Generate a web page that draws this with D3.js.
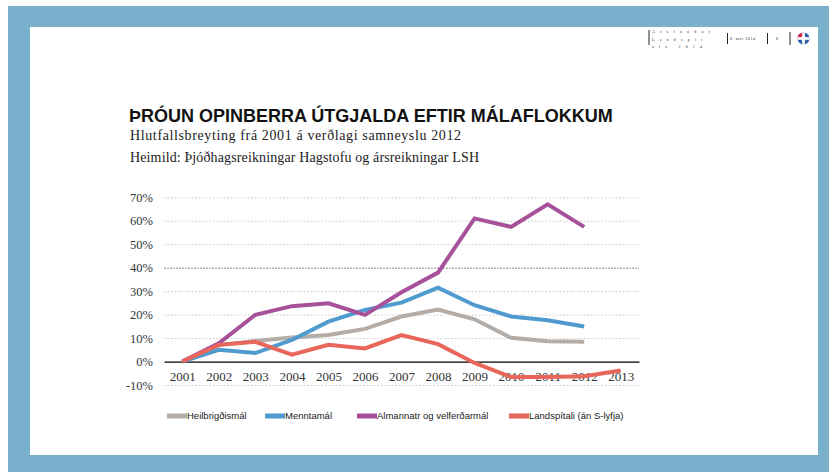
<!DOCTYPE html>
<html>
<head>
<meta charset="utf-8">
<script src="https://cdn.jsdelivr.net/npm/d3@7"></script>
<style>
  body { margin: 0; background: #fff; }
  svg { display: block; }
</style>
</head>
<body>
<div id="chart"></div>
<script>
// Þróun opinberra útgjalda - line chart

var years = [2001, 2002, 2003, 2004, 2005, 2006, 2007, 2008, 2009, 2010, 2011, 2012, 2013];
var yTicks = [-10, 0, 10, 20, 30, 40, 50, 60, 70];

var seriesNames = ["Heilbrigðismál", "Menntamál", "Almannatr og velferðarmál", "Landspítali (án S-lyfja)"];
var seriesColors = ["#b3aca7", "#4f9bd0", "#a6519a", "#e8665a"];

var heilbrigdis = [0, 7, 8.8, 10.2, 11.3, 13.9, 19.2, 22.2, 18, 10.1, 8.6, 8.4];
var mennta = [0, 5, 3.6, 9.2, 17, 22, 25.1, 31.5, 24, 19.2, 17.6, 14.9];
var almannatr = [0, 7.8, 19.9, 23.6, 24.8, 19.9, 29.5, 37.9, 61, 57.4, 67, 57.4];
var landspitali = [0, 7.1, 8.4, 2.9, 7.1, 5.6, 11.3, 7.4, -0.6, -6.6, -6.6, -6.3, -3.8];

var seriesValues = [heilbrigdis, mennta, almannatr, landspitali];

var W = 829, H = 472;

var svg = d3.select("#chart")
    .append("svg")
    .attr("width", W)
    .attr("height", H);

// slide frame
svg.append("rect")
    .attr("x", 8).attr("y", 6)
    .attr("width", W - 8).attr("height", H - 6)
    .attr("fill", "#79b0cc");
svg.append("rect")
    .attr("x", 30).attr("y", 27)
    .attr("width", 788).attr("height", 428)
    .attr("fill", "#fff");

// header strip (top right)
var hdr = svg.append("g").attr("fill", "#333").style("font-family", "Liberation Serif").style("font-size", "4px");
[[649, 30, 45], [727.5, 33, 44], [767.5, 33, 44], [790, 32, 45]].forEach(function (b) {
    hdr.append("line")
        .attr("x1", b[0]).attr("x2", b[0])
        .attr("y1", b[1]).attr("y2", b[2])
        .attr("stroke", "#222").attr("stroke-width", 1);
});
hdr.append("text").attr("x", 652).attr("y", 32.5).attr("letter-spacing", "5.2px").text("Ársfundur");
hdr.append("text").attr("x", 652).attr("y", 41).attr("letter-spacing", "5.2px").text("Landspít");
hdr.append("text").attr("x", 652).attr("y", 47.5).attr("letter-spacing", "5.2px").text("ala 2014");
hdr.append("text").attr("x", 730).attr("y", 40).attr("letter-spacing", "0.6px").text("8. maí 2014");
hdr.append("text").attr("x", 776).attr("y", 40).text("8");

// logo
var logo = svg.append("g").attr("transform", "translate(803.5,38.5)");
logo.append("circle").attr("r", 6).attr("fill", "#2f5fa8");
logo.append("path").attr("d", d3.arc()({ innerRadius: 0, outerRadius: 6, startAngle: -Math.PI / 2, endAngle: 0 })).attr("fill", "#d8274a");
logo.append("rect").attr("x", -1.3).attr("y", -6).attr("width", 2.6).attr("height", 12).attr("fill", "#fff");
logo.append("rect").attr("x", -6).attr("y", -1.3).attr("width", 12).attr("height", 2.6).attr("fill", "#fff");
logo.append("circle").attr("r", 2.4).attr("fill", "#fff");

// titles
svg.append("text")
    .attr("x", 129).attr("y", 122)
    .style("font-family", "Liberation Sans, Arial, sans-serif")
    .style("font-weight", "bold")
    .style("font-size", "18px")
    .attr("fill", "#111")
    .text("ÞRÓUN OPINBERRA ÚTGJALDA EFTIR MÁLAFLOKKUM");

svg.append("text")
    .attr("x", 130).attr("y", 139.5)
    .style("font-family", "Liberation Serif, serif")
    .style("font-size", "14px")
    .attr("fill", "#222")
    .attr("textLength", 331)
    .text("Hlutfallsbreyting frá 2001 á verðlagi samneyslu 2012");

svg.append("text")
    .attr("x", 130).attr("y", 162)
    .style("font-family", "Liberation Serif, serif")
    .style("font-size", "14px")
    .attr("fill", "#222")
    .attr("textLength", 349)
    .text("Heimild: Þjóðhagsreikningar Hagstofu og ársreikningar LSH");

// scales
var x = d3.scalePoint()
    .domain(years)
    .range([164, 639])
    .padding(0.5);

var y = d3.scaleLinear()
    .domain([-10, 70])
    .range([385, 197.3]);

// y axis + gridlines
var yAxis = svg.append("g")
    .attr("transform", "translate(164,0)")
    .call(d3.axisLeft(y)
        .tickValues(yTicks)
        .tickSizeInner(-475)
        .tickSizeOuter(0)
        .tickPadding(11)
        .tickFormat(d => d + "%"));
yAxis.select(".domain").remove();
yAxis.selectAll(".tick line")
    .attr("stroke", d => d == 40 ? "#888" : "#c8c8c8")
    .attr("stroke-dasharray", d => d == 40 ? "2,1" : "1.5,2")
    .attr("stroke-width", d => d == 0 ? 0 : 1);
yAxis.selectAll(".tick text")
    .style("font-family", "Liberation Serif, serif")
    .style("font-size", "12.5px")
    .attr("fill", "#333");

// x axis
var xAxis = svg.append("g")
    .attr("transform", "translate(0," + y(0) + ")")
    .call(d3.axisBottom(x).tickSize(0).tickPadding(10));
xAxis.select(".domain").attr("stroke", "#000").attr("stroke-width", 1.3);
xAxis.selectAll(".tick text")
    .style("font-family", "Liberation Serif, serif")
    .style("font-size", "13px")
    .attr("fill", "#333");

// lines
var line = d3.line()
    .x((d, i) => x(years[i]))
    .y(d => y(d));

svg.selectAll(".series")
    .data(seriesValues)
    .join("path")
    .attr("class", "series")
    .attr("d", line)
    .attr("fill", "none")
    .attr("stroke", (d, i) => seriesColors[i])
    .attr("stroke-width", 4);

// legend
var legendX = [167, 265, 357, 509];
var legend = svg.selectAll(".legend")
    .data(seriesNames)
    .join("g")
    .attr("class", "legend")
    .attr("transform", (d, i) => "translate(" + legendX[i] + ",416)");
legend.append("rect")
    .attr("x", 0).attr("y", -2.5)
    .attr("width", 20).attr("height", 5)
    .attr("fill", (d, i) => seriesColors[i]);
legend.append("text")
    .attr("x", 20).attr("y", 3.3)
    .style("font-family", "Liberation Sans, Arial, sans-serif")
    .style("font-size", "9.5px")
    .attr("fill", "#222")
    .text(d => d);
</script>
</body>
</html>
